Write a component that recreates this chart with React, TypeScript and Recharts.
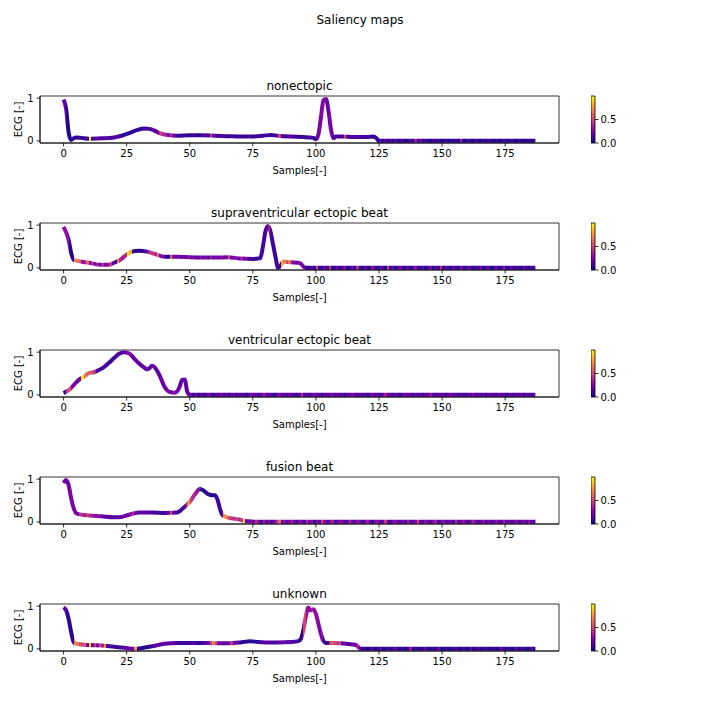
import { LineChart, Line, XAxis, YAxis, ReferenceArea, BarChart, Bar } from "recharts";

// axis ticks and panel titles
const SAMPLE_TICKS = [0, 25, 50, 75, 100, 125, 150, 175];
const ECG_TICKS = [0, 1];
const CBAR_TICKS = [0, 0.5];
const X_DOMAIN = [-9.35, 196.35];
const Y_DOMAIN = [-0.05, 1.05];

// ECG traces (sample index, normalised amplitude)
const NONECTOPIC_X = [0, 1, 2, 3, 4, 5, 7, 10, 15, 20, 23, 26, 29, 32, 34, 36, 38, 41, 45, 50, 55, 60, 65, 70, 75, 79, 82, 85, 90, 95, 99, 100, 101, 102, 103, 104, 105, 106, 107, 108, 110, 115, 120, 123, 124, 125, 187];
const NONECTOPIC_Y = [0.97, 0.75, 0.2, 0.02, 0.06, 0.08, 0.07, 0.05, 0.06, 0.08, 0.12, 0.18, 0.25, 0.29, 0.28, 0.24, 0.18, 0.14, 0.12, 0.13, 0.13, 0.12, 0.11, 0.1, 0.1, 0.12, 0.14, 0.12, 0.1, 0.09, 0.07, 0.04, 0.15, 0.55, 0.95, 0.98, 0.7, 0.25, 0.06, 0.1, 0.1, 0.09, 0.09, 0.1, 0.06, 0, 0];

const SUPRA_X = [0, 2, 3, 4, 5, 10, 15, 18, 20, 22, 25, 27, 30, 33, 36, 40, 45, 50, 60, 65, 70, 75, 77, 78, 79, 80, 81, 82, 83, 84, 85, 86, 87, 88, 90, 93, 94, 95, 96, 187];
const SUPRA_Y = [0.96, 0.65, 0.35, 0.19, 0.17, 0.12, 0.07, 0.07, 0.12, 0.17, 0.31, 0.38, 0.4, 0.38, 0.33, 0.26, 0.26, 0.25, 0.24, 0.25, 0.22, 0.21, 0.22, 0.23, 0.5, 0.85, 0.98, 0.85, 0.55, 0.25, 0.0, 0.05, 0.15, 0.14, 0.13, 0.12, 0.1, 0.03, 0, 0];

const VENTRIC_X = [0, 2, 4, 6, 8, 10, 12, 14, 16, 18, 20, 22, 24, 26, 28, 30, 32, 33, 34, 35, 36, 38, 40, 42, 44, 45, 46, 47, 48, 49, 50, 187];
const VENTRIC_Y = [0.04, 0.11, 0.23, 0.35, 0.42, 0.51, 0.53, 0.58, 0.65, 0.75, 0.86, 0.96, 1.0, 0.97, 0.85, 0.73, 0.64, 0.6, 0.62, 0.68, 0.65, 0.46, 0.19, 0.07, 0.05, 0.08, 0.19, 0.35, 0.36, 0.08, 0, 0];

const FUSION_X = [0, 1, 2, 3, 4, 5, 7, 10, 15, 20, 22, 25, 28, 30, 35, 40, 45, 47, 50, 52, 54, 55, 57, 59, 60, 61, 62, 63, 65, 68, 70, 72, 74, 76, 187];
const FUSION_Y = [0.91, 0.98, 0.86, 0.55, 0.32, 0.2, 0.17, 0.15, 0.13, 0.11, 0.11, 0.15, 0.2, 0.22, 0.22, 0.21, 0.22, 0.3, 0.47, 0.64, 0.77, 0.75, 0.66, 0.62, 0.62, 0.52, 0.3, 0.16, 0.1, 0.07, 0.05, 0.02, 0.01, 0, 0];

const UNKNOWN_X = [0, 1, 2, 3, 4, 5, 10, 15, 20, 25, 28, 30, 35, 40, 45, 50, 55, 60, 65, 70, 74, 77, 80, 85, 90, 93, 94, 95, 96, 97, 98, 99, 100, 101, 102, 103, 104, 110, 112, 116, 117, 118, 187];
const UNKNOWN_Y = [0.97, 0.9, 0.7, 0.39, 0.16, 0.12, 0.09, 0.08, 0.05, 0.02, 0.0, 0.01, 0.06, 0.12, 0.14, 0.14, 0.14, 0.13, 0.13, 0.15, 0.18, 0.16, 0.15, 0.15, 0.16, 0.18, 0.23, 0.43, 0.76, 0.97, 0.9, 0.93, 0.82, 0.58, 0.35, 0.18, 0.14, 0.13, 0.12, 0.09, 0.03, 0, 0];

// saliency per sample (0..187)
const NONECTOPIC_SAL = [
  0.18, 0.03, 0.03, 0.1, 0.08, 0.06, 0.1, 0.06, 0.1, 0.13,
  1.0, 0.13, 0.1, 0.18, 0.13, 0.1, 0.13, 0.18, 0.1, 0.13,
  0.13, 0.18, 0.1, 0.06, 0.06, 0.05, 0.06, 0.05, 0.06, 0.08,
  0.06, 0.08, 0.1, 0.13, 0.13, 0.18, 0.13, 0.22, 0.45, 0.4,
  0.35, 0.22, 0.4, 0.22, 0.13, 0.1, 0.06, 0.08, 0.1, 0.06,
  0.08, 0.1, 0.06, 0.05, 0.1, 0.18, 0.13, 0.1, 0.45, 0.18,
  0.13, 0.1, 0.13, 0.18, 0.1, 0.08, 0.13, 0.1, 0.06, 0.13,
  0.1, 0.06, 0.08, 0.13, 0.1, 0.06, 0.1, 0.13, 0.08, 0.1,
  0.13, 0.1, 0.06, 0.1, 0.13, 0.5, 0.13, 0.1, 0.13, 0.18,
  0.1, 0.13, 0.1, 0.06, 0.13, 0.1, 0.06, 0.13, 0.1, 0.06,
  0.2, 0.25, 0.25, 0.25, 0.2, 0.25, 0.2, 0.1, 0.13, 0.1,
  0.13, 0.5, 0.13, 0.1, 0.13, 0.18, 0.13, 0.1, 0.13, 0.1,
  0.13, 0.1, 0.06, 0.1, 0.06, 0.13, 0.06, 0.18, 0.03, 0.13,
  0.06, 0.18, 0.03, 0.1, 0.13, 0.03, 0.06, 0.18, 0.03, 0.35,
  0.06, 0.22, 0.03, 0.13, 0.06, 0.03, 0.13, 0.06, 0.1, 0.03,
  0.06, 0.13, 0.03, 0.1, 0.06, 0.13, 0.03, 0.35, 0.06, 0.03,
  0.13, 0.06, 0.03, 0.18, 0.06, 0.03, 0.1, 0.03, 0.13, 0.06,
  0.03, 0.1, 0.06, 0.03, 0.13, 0.06, 0.03, 0.1, 0.06, 0.03,
  0.13, 0.06, 0.03, 0.06, 0.1, 0.03, 0.06, 0.06,
];
const SUPRA_SAL = [
  0.3, 0.3, 0.05, 0.05, 0.7, 0.65, 0.6, 0.3, 0.35, 0.6,
  0.3, 0.4, 0.25, 0.35, 0.2, 0.4, 0.25, 0.3, 0.45, 0.2,
  0.1, 0.7, 0.4, 0.35, 0.4, 0.95, 0.8, 0.05, 0.05, 0.08,
  0.05, 0.05, 0.1, 0.3, 0.45, 0.45, 0.4, 0.65, 0.25, 0.25,
  0.05, 0.05, 0.6, 0.25, 0.2, 0.25, 0.15, 0.25, 0.2, 0.3,
  0.2, 0.25, 0.15, 0.2, 0.3, 0.2, 0.25, 0.15, 0.35, 0.2,
  0.25, 0.2, 0.3, 0.2, 0.25, 0.5, 0.2, 0.25, 0.3, 0.2,
  0.35, 0.2, 0.25, 0.15, 0.1, 0.1, 0.1, 0.08, 0.1, 0.1,
  0.15, 0.35, 0.1, 0.08, 0.1, 0.1, 0.8, 0.7, 0.5, 0.65,
  0.3, 0.25, 0.2, 0.3, 0.25, 0.2, 0.05, 0.1, 0.2, 0.05,
  0.5, 0.1, 0.05, 0.2, 0.1, 0.45, 0.05, 0.1, 0.2, 0.05,
  0.15, 0.3, 0.05, 0.1, 0.2, 0.05, 0.4, 0.1, 0.05, 0.2,
  0.1, 0.05, 0.3, 0.1, 0.05, 0.2, 0.1, 0.05, 0.45, 0.1,
  0.2, 0.05, 0.1, 0.25, 0.05, 0.1, 0.2, 0.05, 0.15, 0.3,
  0.05, 0.1, 0.2, 0.05, 0.1, 0.25, 0.05, 0.15, 0.1, 0.4,
  0.05, 0.2, 0.1, 0.05, 0.2, 0.1, 0.05, 0.3, 0.1, 0.05,
  0.2, 0.1, 0.05, 0.15, 0.1, 0.25, 0.05, 0.1, 0.2, 0.05,
  0.1, 0.2, 0.05, 0.1, 0.3, 0.05, 0.1, 0.2, 0.05, 0.15,
  0.1, 0.05, 0.2, 0.1, 0.05, 0.15, 0.1, 0.1,
];
const VENTRIC_SAL = [
  0.05, 0.5, 0.55, 0.25, 0.25, 0.2, 0.2, 0.95, 0.65, 0.6,
  0.6, 0.5, 0.4, 0.15, 0.1, 0.1, 0.15, 0.1, 0.08, 0.1,
  0.1, 0.15, 0.12, 0.15, 0.2, 0.3, 0.25, 0.15, 0.2, 0.2,
  0.15, 0.2, 0.2, 0.15, 0.2, 0.2, 0.15, 0.2, 0.2, 0.2,
  0.25, 0.25, 0.2, 0.3, 0.25, 0.2, 0.2, 0.2, 0.15, 0.2,
  0.2, 0.1, 0.25, 0.05, 0.2, 0.15, 0.1, 0.25, 0.2, 0.05,
  0.2, 0.15, 0.25, 0.1, 0.2, 0.05, 0.2, 0.25, 0.1, 0.2,
  0.15, 0.2, 0.05, 0.2, 0.25, 0.15, 0.2, 0.1, 0.2, 0.35,
  0.2, 0.15, 0.2, 0.05, 0.2, 0.25, 0.15, 0.2, 0.1, 0.2,
  0.2, 0.15, 0.05, 0.2, 0.4, 0.15, 0.2, 0.1, 0.2, 0.25,
  0.15, 0.2, 0.05, 0.2, 0.15, 0.2, 0.25, 0.1, 0.2, 0.15,
  0.2, 0.05, 0.2, 0.15, 0.25, 0.2, 0.1, 0.2, 0.15, 0.2,
  0.05, 0.2, 0.25, 0.15, 0.2, 0.1, 0.2, 0.35, 0.15, 0.2,
  0.1, 0.2, 0.15, 0.05, 0.2, 0.25, 0.15, 0.2, 0.1, 0.2,
  0.15, 0.2, 0.05, 0.2, 0.15, 0.3, 0.2, 0.1, 0.2, 0.15,
  0.2, 0.05, 0.2, 0.25, 0.15, 0.2, 0.1, 0.2, 0.15, 0.05,
  0.2, 0.15, 0.25, 0.1, 0.2, 0.15, 0.2, 0.05, 0.2, 0.15,
  0.2, 0.1, 0.25, 0.15, 0.2, 0.05, 0.2, 0.15, 0.1, 0.2,
  0.15, 0.2, 0.05, 0.2, 0.15, 0.1, 0.2, 0.2,
];
const FUSION_SAL = [
  0.2, 0.2, 0.25, 0.25, 0.25, 0.25, 0.45, 0.4, 0.35, 0.45,
  0.4, 0.35, 0.3, 0.3, 0.3, 0.15, 0.15, 0.2, 0.15, 0.15,
  0.15, 0.15, 0.2, 0.25, 0.2, 0.2, 0.3, 0.4, 0.2, 0.15,
  0.2, 0.15, 0.15, 0.2, 0.15, 0.1, 0.1, 0.15, 0.1, 0.1,
  0.15, 0.2, 0.5, 0.2, 0.1, 0.1, 0.08, 0.1, 0.3, 0.7,
  0.45, 0.4, 0.35, 0.3, 0.05, 0.05, 0.05, 0.08, 0.05, 0.05,
  0.1, 0.1, 0.1, 0.75, 0.7, 0.5, 0.45, 0.4, 0.5, 0.4,
  0.45, 0.9, 0.2, 0.2, 0.25, 0.2, 0.4, 0.25, 0.1, 0.35,
  0.2, 0.3, 0.1, 0.25, 0.4, 0.65, 0.2, 0.3, 0.15, 0.25,
  0.35, 0.2, 0.1, 0.3, 0.25, 0.15, 0.4, 0.2, 0.3, 0.1,
  0.25, 0.2, 0.5, 0.3, 0.15, 0.25, 0.35, 0.1, 0.2, 0.3,
  0.25, 0.1, 0.2, 0.4, 0.2, 0.15, 0.3, 0.25, 0.1, 0.2,
  0.35, 0.2, 0.1, 0.25, 0.3, 0.15, 0.2, 0.45, 0.2, 0.1,
  0.25, 0.3, 0.15, 0.2, 0.25, 0.1, 0.35, 0.2, 0.15, 0.25,
  0.5, 0.2, 0.1, 0.3, 0.2, 0.15, 0.25, 0.35, 0.1, 0.2,
  0.3, 0.15, 0.2, 0.25, 0.1, 0.4, 0.2, 0.15, 0.3, 0.2,
  0.1, 0.25, 0.35, 0.2, 0.15, 0.2, 0.3, 0.1, 0.25, 0.2,
  0.15, 0.3, 0.2, 0.1, 0.35, 0.2, 0.25, 0.15, 0.2, 0.3,
  0.1, 0.2, 0.25, 0.15, 0.3, 0.2, 0.1, 0.2,
];
const UNKNOWN_SAL = [
  0.18, 0.06, 0.05, 0.05, 0.7, 0.65, 0.55, 0.5, 0.55, 0.22,
  0.9, 0.22, 0.45, 0.22, 0.5, 0.35, 0.7, 0.1, 0.1, 0.13,
  0.1, 0.08, 0.1, 0.13, 0.18, 0.18, 0.22, 0.18, 0.75, 0.05,
  0.05, 0.03, 0.06, 0.05, 0.06, 0.13, 0.18, 0.22, 0.13, 0.22,
  0.18, 0.13, 0.22, 0.18, 0.13, 0.1, 0.06, 0.1, 0.08, 0.1,
  0.1, 0.13, 0.1, 0.06, 0.1, 0.13, 0.18, 0.22, 0.5, 0.65,
  0.5, 0.22, 0.18, 0.22, 0.18, 0.22, 0.45, 0.22, 0.18, 0.13,
  0.06, 0.05, 0.06, 0.05, 0.06, 0.08, 0.06, 0.1, 0.13, 0.18,
  0.13, 0.18, 0.13, 0.1, 0.13, 0.18, 0.13, 0.22, 0.13, 0.18,
  0.13, 0.1, 0.13, 0.06, 0.06, 0.5, 0.3, 0.3, 0.35, 0.3,
  0.3, 0.25, 0.3, 0.06, 0.06, 0.5, 0.55, 0.5, 0.45, 0.5,
  0.18, 0.22, 0.13, 0.18, 0.22, 0.18, 0.35, 0.22, 0.06, 0.13,
  0.03, 0.1, 0.13, 0.03, 0.06, 0.18, 0.03, 0.06, 0.13, 0.03,
  0.1, 0.22, 0.03, 0.06, 0.13, 0.03, 0.06, 0.35, 0.03, 0.1,
  0.13, 0.03, 0.06, 0.18, 0.03, 0.06, 0.13, 0.03, 0.22, 0.06,
  0.03, 0.13, 0.06, 0.03, 0.1, 0.18, 0.03, 0.06, 0.13, 0.03,
  0.06, 0.22, 0.03, 0.1, 0.13, 0.03, 0.06, 0.18, 0.03, 0.06,
  0.13, 0.03, 0.1, 0.22, 0.03, 0.06, 0.13, 0.03, 0.06, 0.18,
  0.03, 0.1, 0.13, 0.03, 0.06, 0.13, 0.03, 0.06,
];

const PANELS = [
  { title: "nonectopic", xs: NONECTOPIC_X, ys: NONECTOPIC_Y, sal: NONECTOPIC_SAL, top: 96 },
  { title: "supraventricular ectopic beat", xs: SUPRA_X, ys: SUPRA_Y, sal: SUPRA_SAL, top: 223 },
  { title: "ventricular ectopic beat", xs: VENTRIC_X, ys: VENTRIC_Y, sal: VENTRIC_SAL, top: 350 },
  { title: "fusion beat", xs: FUSION_X, ys: FUSION_Y, sal: FUSION_SAL, top: 477 },
  { title: "unknown", xs: UNKNOWN_X, ys: UNKNOWN_Y, sal: UNKNOWN_SAL, top: 604 },
];

// matplotlib plasma, sampled every 0.1
const PLASMA = ["#0d0887", "#41049d", "#6a00a8", "#8f0da4", "#b12a90", "#cc4778", "#e16462", "#f2844b", "#fca636", "#fcce25", "#f0f921"];

function plasma(t: number) {
  const v = Math.max(0, Math.min(1, t)) * (PLASMA.length - 1);
  const i = Math.min(Math.floor(v), PLASMA.length - 2);
  const f = v - i;
  const a = PLASMA[i], b = PLASMA[i + 1];
  const ch = (s: string, k: number) => parseInt(s.slice(1 + 2 * k, 3 + 2 * k), 16);
  const mix = [0, 1, 2].map((k) => Math.round(ch(a, k) + (ch(b, k) - ch(a, k)) * f));
  return `rgb(${mix.join(",")})`;
}

const AX_H = 47;
const CB_PAD = 7;
const TICK = { fontSize: 10, fill: "#000" };
const AXIS_LINE = { stroke: "#000", strokeWidth: 0.8 };

function Panel({ idx, title, xs, ys, sal, top }: any) {
  const data = xs.map((x: number, i: number) => ({ x, v: ys[i] }));
  const last = sal.length - 1;
  const stops: any[] = [];
  for (let k = 0; k < last; k++) {
    const c = plasma(sal[k]);
    stops.push(<stop key={`a${k}`} offset={k / last} stopColor={c} />);
    stops.push(<stop key={`b${k}`} offset={(k + 1) / last} stopColor={c} />);
  }
  return (
    <>
      <div style={{ position: "absolute", left: 40, width: 519, top: top - 16, fontSize: 12, lineHeight: "12px", textAlign: "center" }}>
        {title}
      </div>
      <div style={{ position: "absolute", left: 0, top: top - 5 }}>
        <LineChart width={580} height={AX_H + 45} data={data} margin={{ top: 5, right: 21, left: 0, bottom: 0 }}>
          <defs>
            <linearGradient id={`sal${idx}`} x1="0" y1="0" x2="1" y2="0">
              {stops}
            </linearGradient>
          </defs>
          <XAxis
            dataKey="x"
            type="number"
            domain={X_DOMAIN}
            ticks={SAMPLE_TICKS}
            interval={0}
            height={40}
            tick={TICK}
            tickSize={3.5}
            tickMargin={3}
            axisLine={AXIS_LINE}
            tickLine={AXIS_LINE}
            label={{ value: "Samples[-]", position: "insideBottom", offset: 9, fill: "#000", fontSize: 10 }}
          />
          <YAxis
            type="number"
            domain={Y_DOMAIN}
            ticks={ECG_TICKS}
            interval={0}
            width={40}
            tick={TICK}
            tickSize={3.5}
            tickMargin={3}
            axisLine={AXIS_LINE}
            tickLine={AXIS_LINE}
            label={{ value: "ECG [-]", angle: -90, position: "insideLeft", offset: 18, fill: "#000", fontSize: 10, style: { textAnchor: "middle" } }}
          />
          <ReferenceArea
            x1={X_DOMAIN[0]}
            x2={X_DOMAIN[1]}
            y1={Y_DOMAIN[0]}
            y2={Y_DOMAIN[1]}
            fill="none"
            fillOpacity={0}
            stroke="#000"
            strokeWidth={0.8}
            ifOverflow="visible"
          />
          <Line
            type="monotone"
            dataKey="v"
            stroke={`url(#sal${idx})`}
            strokeWidth={4}
            dot={false}
            activeDot={false}
            isAnimationActive={false}
          />
        </LineChart>
      </div>
      <div style={{ position: "absolute", left: 591, top: top - CB_PAD }}>
        <BarChart width={34} height={AX_H + 2 * CB_PAD} data={[{ v: 1 }]} margin={{ top: CB_PAD, right: 0, left: 0, bottom: CB_PAD }} barCategoryGap={0}>
          <defs>
            <linearGradient id={`cbar${idx}`} x1="0" y1="1" x2="0" y2="0">
              {PLASMA.map((c, i) => (
                <stop key={i} offset={i / (PLASMA.length - 1)} stopColor={c} />
              ))}
            </linearGradient>
          </defs>
          <XAxis hide dataKey="v" height={0} />
          <YAxis
            orientation="right"
            type="number"
            domain={[0, 1]}
            ticks={CBAR_TICKS}
            interval={0}
            width={30}
            tick={TICK}
            tickSize={3.5}
            tickMargin={2}
            axisLine={false}
            tickLine={AXIS_LINE}
            tickFormatter={(t: number) => t.toFixed(1)}
          />
          <Bar dataKey="v" fill={`url(#cbar${idx})`} stroke="#000" strokeWidth={0.8} isAnimationActive={false} />
        </BarChart>
      </div>
    </>
  );
}

export default function App() {
  return (
    <div style={{ position: "absolute", left: 0, top: 0, width: 720, height: 720, background: "#fff", fontFamily: "'DejaVu Sans', sans-serif", color: "#000" }}>
      <div style={{ position: "absolute", left: 0, width: 720, top: 14, fontSize: 12, lineHeight: "12px", textAlign: "center" }}>
        Saliency maps
      </div>
      {PANELS.map((p, i) => (
        <Panel key={i} idx={i} {...p} />
      ))}
    </div>
  );
}
